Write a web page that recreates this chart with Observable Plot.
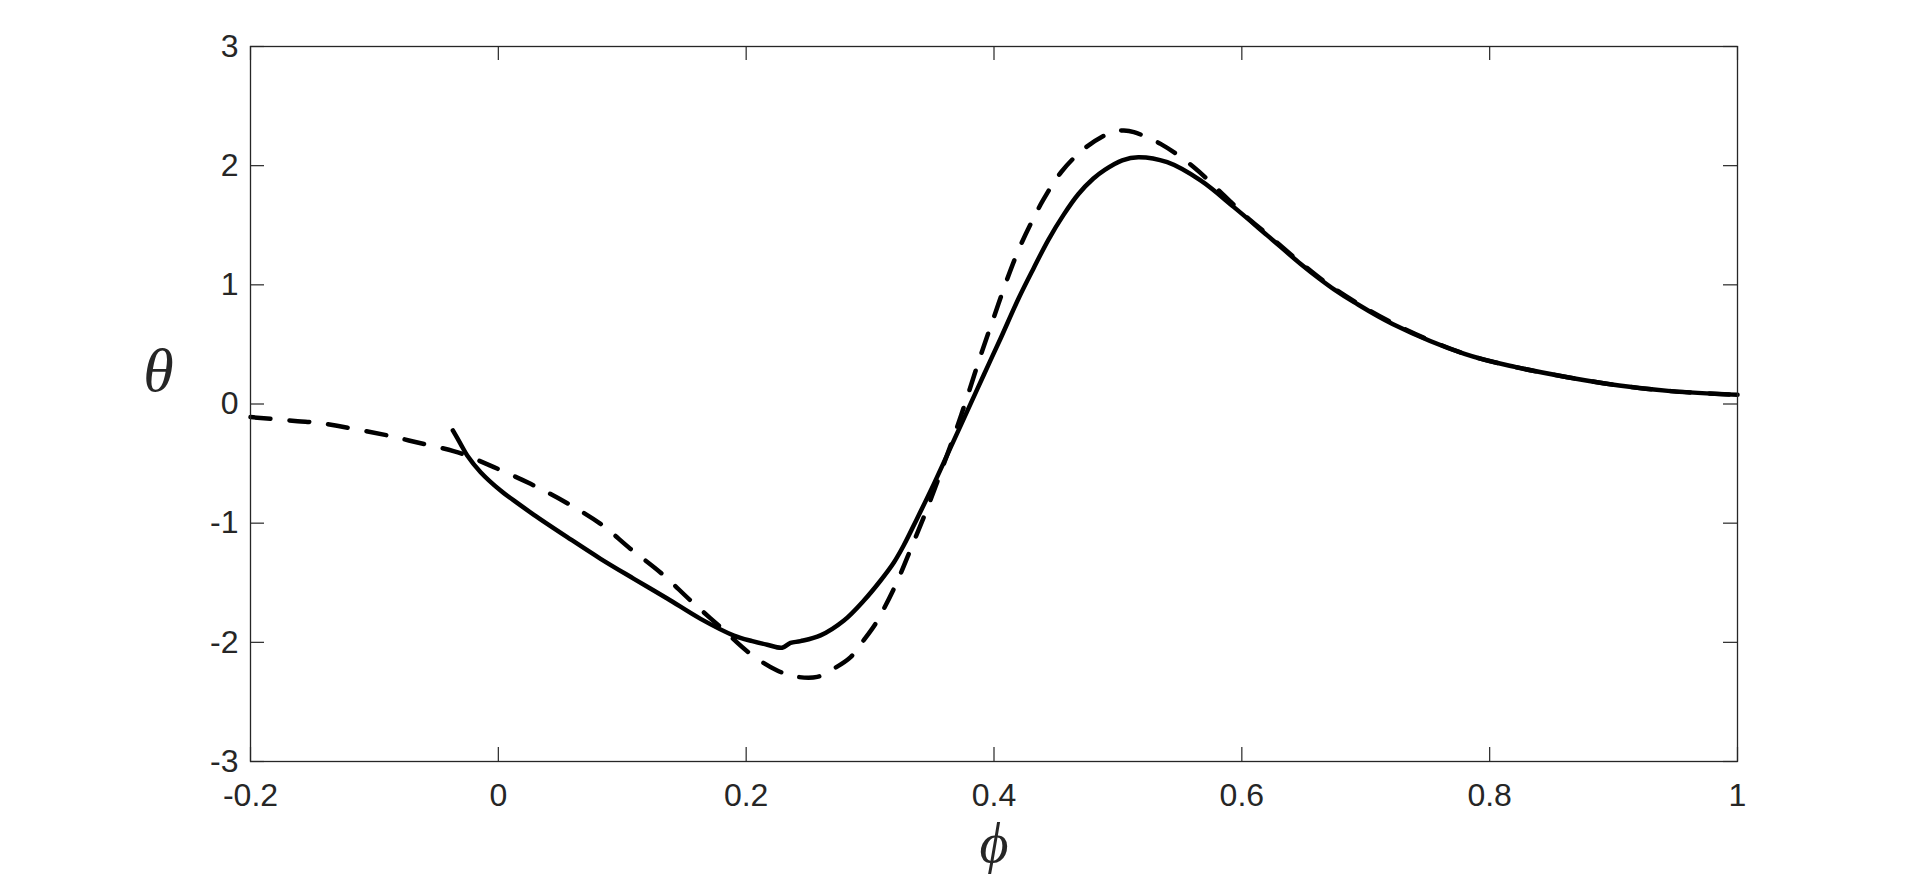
<!DOCTYPE html>
<html>
<head>
<meta charset="utf-8">
<script src="https://cdn.jsdelivr.net/npm/d3@7"></script>
<script src="https://cdn.jsdelivr.net/npm/@observablehq/plot@0.6"></script>
<style>
  html, body { margin: 0; padding: 0; background: #ffffff; }
  #chart svg { display: block; }
</style>
</head>
<body>
<div id="chart"></div>
<script>
// ---- data ----
const solidPhi = [-0.0367, -0.0305, -0.0251, -0.0143, 0.0018, 0.0152, 0.0287, 0.0556, 0.0825, 0.1094, 0.1363, 0.1632, 0.1901, 0.205, 0.217, 0.229, 0.2358, 0.2439, 0.26, 0.2789, 0.295, 0.3085, 0.3192, 0.327, 0.338, 0.3515, 0.3665, 0.3784, 0.392, 0.4053, 0.42, 0.432, 0.444, 0.456, 0.468, 0.48, 0.4894, 0.5035, 0.5165, 0.5398, 0.5667, 0.5936, 0.6205, 0.6475, 0.6634, 0.6744, 0.6905, 0.7216, 0.7797, 0.8213, 0.8628, 0.9045, 0.946, 1.0];
const solidTheta = [-0.222, -0.334, -0.432, -0.572, -0.726, -0.83, -0.93, -1.117, -1.299, -1.467, -1.632, -1.803, -1.943, -1.99, -2.02, -2.045, -2.005, -1.99, -1.942, -1.817, -1.649, -1.481, -1.33, -1.19, -0.96, -0.67, -0.33, -0.06, 0.25, 0.55, 0.89, 1.14, 1.38, 1.585, 1.76, 1.89, 1.965, 2.045, 2.071, 2.029, 1.876, 1.652, 1.415, 1.175, 1.045, 0.962, 0.855, 0.672, 0.421, 0.309, 0.225, 0.155, 0.108, 0.077];

const dashedPhi = [-0.2, -0.162, -0.1448, -0.0856, -0.0722, -0.0362, -0.0257, -0.0036, 0.026, 0.0542, 0.0825, 0.1067, 0.1322, 0.1551, 0.1793, 0.2035, 0.225, 0.2397, 0.2574, 0.2708, 0.2843, 0.2937, 0.3044, 0.3111, 0.3192, 0.3246, 0.3327, 0.346, 0.3575, 0.369, 0.3784, 0.3892, 0.3999, 0.4107, 0.4201, 0.43, 0.4396, 0.4541, 0.4749, 0.4967, 0.5048, 0.5129, 0.5344, 0.5613, 0.5856, 0.6071, 0.6205, 0.6475, 0.6744, 0.7216, 0.7797, 0.8213, 0.8628, 0.9045, 0.946, 1.0];
const dashedTheta = [-0.11, -0.144, -0.159, -0.272, -0.306, -0.395, -0.432, -0.53, -0.67, -0.824, -1.006, -1.216, -1.426, -1.649, -1.873, -2.097, -2.236, -2.287, -2.29, -2.22, -2.124, -1.998, -1.844, -1.718, -1.55, -1.425, -1.22, -0.88, -0.56, -0.23, 0.06, 0.407, 0.729, 1.05, 1.30, 1.52, 1.71, 1.945, 2.16, 2.288, 2.295, 2.281, 2.183, 1.987, 1.75, 1.54, 1.425, 1.185, 0.97, 0.68, 0.421, 0.309, 0.225, 0.155, 0.108, 0.077];

const xTicks = [-0.2, 0, 0.2, 0.4, 0.6, 0.8, 1];
const xTickLabels = ["-0.2", "0", "0.2", "0.4", "0.6", "0.8", "1"];
const yTicks = [-3, -2, -1, 0, 1, 2, 3];
const yTickLabels = ["-3", "-2", "-1", "0", "1", "2", "3"];
const xLabel = "\u03D5";   // phi
const yLabel = "\u03B8";   // theta

// ---- tables built from the arrays ----
const solid = solidPhi.map((p, i) => ({phi: p, theta: solidTheta[i]}));
const dashed = dashedPhi.map((p, i) => ({phi: p, theta: dashedTheta[i]}));

const W = 1920, H = 879;
const mL = 250, mR = 183, mT = 46, mB = 118;
const fw = W - mL - mR, fh = H - mT - mB;
const tickLen = 14;
const axisColor = "#262626";

const chart = Plot.plot({
  width: W,
  height: H,
  marginLeft: mL,
  marginRight: mR,
  marginTop: mT,
  marginBottom: mB,
  x: {domain: [-0.2, 1]},
  y: {domain: [-3, 3]},
  style: {
    fontFamily: "'Liberation Sans', Arial, Helvetica, sans-serif",
    fontSize: "32px",
    color: axisColor,
    background: "#ffffff"
  },
  marks: [
    // inward tick marks on all four sides
    Plot.tickX(xTicks, {x: d => d, stroke: axisColor, strokeWidth: 1.2, insetTop: fh - tickLen}),
    Plot.tickX(xTicks, {x: d => d, stroke: axisColor, strokeWidth: 1.2, insetBottom: fh - tickLen}),
    Plot.tickY(yTicks, {y: d => d, stroke: axisColor, strokeWidth: 1.2, insetRight: fw - tickLen}),
    Plot.tickY(yTicks, {y: d => d, stroke: axisColor, strokeWidth: 1.2, insetLeft: fw - tickLen}),
    // tick labels
    Plot.axisX({ticks: xTicks, tickSize: 0, tickPadding: 22, label: null,
      tickFormat: (d) => xTickLabels[xTicks.indexOf(d)], fill: axisColor}),
    Plot.axisY({ticks: yTicks, tickSize: 0, tickPadding: 12, label: null,
      tickFormat: (d) => yTickLabels[yTicks.indexOf(d)], fill: axisColor}),
    // curves
    Plot.line(dashed, {x: "phi", y: "theta", stroke: "#000000", strokeWidth: 4.5,
      strokeDasharray: "20,19", curve: "catmull-rom", strokeLinejoin: "round"}),
    Plot.line(solid, {x: "phi", y: "theta", stroke: "#000000", strokeWidth: 4.5,
      curve: "catmull-rom", strokeLinejoin: "round"}),
    // frame
    Plot.frame({stroke: axisColor, strokeWidth: 1.3}),
    // axis labels
    Plot.text([yLabel], {text: d => d, frameAnchor: "left", dx: -92, dy: -33,
      fontFamily: "'Liberation Serif', 'Times New Roman', serif", fontStyle: "italic",
      fontSize: 62, fill: axisColor, textAnchor: "middle"}),
    Plot.text([xLabel], {text: d => d, frameAnchor: "bottom", dy: 100,
      fontFamily: "'Liberation Serif', 'Times New Roman', serif", fontStyle: "italic",
      fontSize: 56, fill: axisColor, textAnchor: "middle"})
  ]
});

document.getElementById("chart").appendChild(chart);
</script>
</body>
</html>
